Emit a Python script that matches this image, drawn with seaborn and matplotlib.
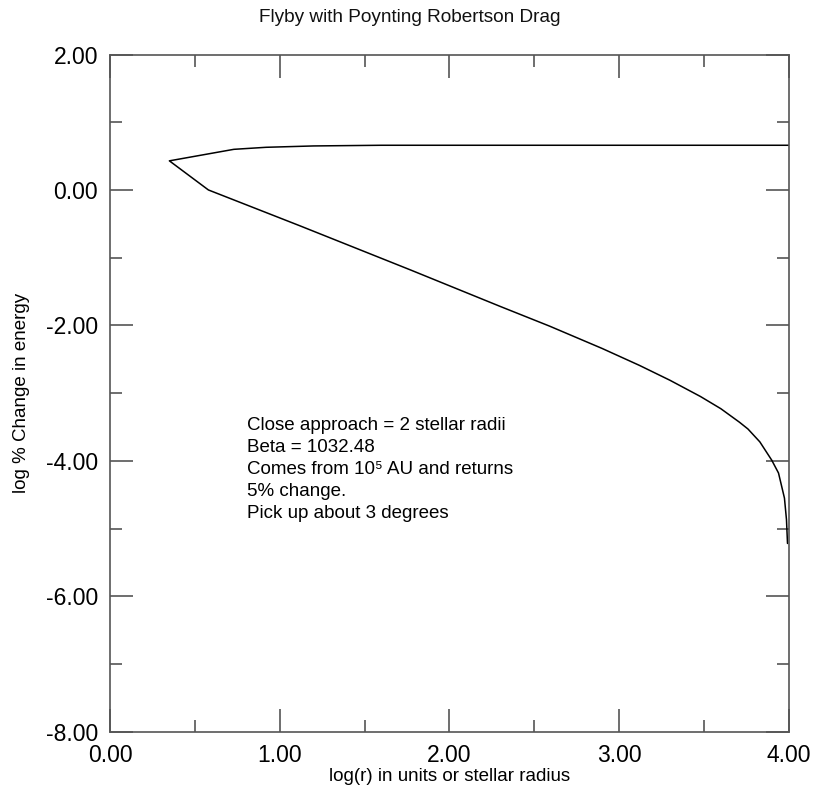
import pandas as pd
import matplotlib.pyplot as plt
import seaborn as sns
from matplotlib.ticker import MultipleLocator, FormatStrFormatter

# values (path goes from far right on top, to the turn, then back down)
log_r = [4.00, 3.00, 2.00, 1.60, 1.20, 0.92, 0.73, 0.35,
         0.58, 1.12, 1.32, 1.77, 2.30, 2.59, 2.90, 3.12, 3.30, 3.48, 3.60,
         3.71, 3.76, 3.83, 3.90, 3.94, 3.975, 3.987, 3.993]
log_de = [0.66, 0.66, 0.66, 0.66, 0.65, 0.63, 0.60, 0.43,
          0.00, -0.53, -0.73, -1.18, -1.72, -2.01, -2.34, -2.59, -2.81, -3.05, -3.23,
          -3.43, -3.53, -3.72, -3.99, -4.18, -4.55, -4.87, -5.22]

note_lines = ["Close approach = 2 stellar radii",
              "Beta = 1032.48",
              "Comes from 10\u2075 AU and returns",
              "5% change.",
              "Pick up about 3 degrees"]

df = pd.DataFrame({'log_r': log_r, 'log_de': log_de})

sns.set_style("ticks")
plt.rcParams['font.family'] = ['Liberation Sans', 'DejaVu Sans']
plt.rcParams['text.color'] = 'black'
plt.rcParams['axes.labelcolor'] = 'black'

fig = plt.figure(figsize=(8.13, 7.89), dpi=100)
ax = fig.add_axes([0.1353, 0.0726, 0.8348, 0.8583])

sns.lineplot(data=df, x='log_r', y='log_de', sort=False, estimator=None,
             color='black', linewidth=1.1, ax=ax)

ax.set_xlim(0, 4)
ax.set_ylim(-8, 2)
ax.xaxis.set_major_locator(MultipleLocator(1))
ax.xaxis.set_minor_locator(MultipleLocator(0.5))
ax.yaxis.set_major_locator(MultipleLocator(2))
ax.yaxis.set_minor_locator(MultipleLocator(1))
ax.xaxis.set_major_formatter(FormatStrFormatter('%.2f'))
ax.yaxis.set_major_formatter(FormatStrFormatter('%.2f'))

ax.tick_params(which='both', direction='in', top=True, right=True,
               color='#555555', width=1.2, labelcolor='black')
ax.tick_params(which='major', length=16.5, labelsize=16.5, pad=8.5)
ax.tick_params(which='minor', length=8.5)
for s in ax.spines.values():
    s.set_color('#555555')
    s.set_linewidth(1.2)

ax.set_xlabel('log(r) in units or stellar radius', fontsize=13.5, labelpad=1)
ax.set_ylabel('')
fig.text(21 / 813, 1 - 393 / 789, 'log % Change in energy', fontsize=13.5,
         rotation=90, ha='center', va='center')
fig.text(410 / 813, 1 - 17 / 789, 'Flyby with Poynting Robertson Drag',
         fontsize=13.7, ha='center', va='center', color='#111111')

ax.text(0.805, -3.36, "\n".join(note_lines), fontsize=13.5,
        va='top', ha='left', linespacing=1.38)

plt.savefig('out.png', dpi=100)
